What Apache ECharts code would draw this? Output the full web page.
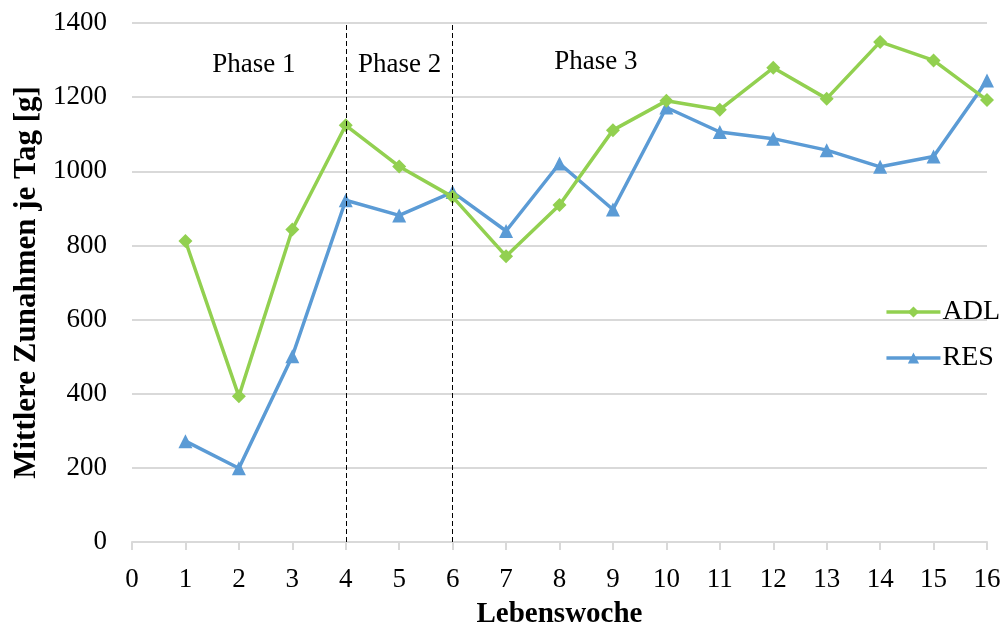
<!DOCTYPE html>
<html>
<head>
<meta charset="utf-8">
<script src="https://cdn.jsdelivr.net/npm/echarts@6/dist/echarts.min.js"></script>
<style>
  html, body { margin: 0; padding: 0; background: #fff; }
  #chart { width: 1008px; height: 629px; }
</style>
</head>
<body>
<div id="chart"></div>
<script>
// Lebenswoche (week of life)
const weeks = [1, 2, 3, 4, 5, 6, 7, 8, 9, 10, 11, 12, 13, 14, 15, 16];
// Mean daily gain in grams
const adl = [812, 393, 843, 1124, 1013, 931, 771, 909, 1111, 1190, 1166, 1279, 1196, 1349, 1299, 1192];
const res = [272, 199, 501, 922, 881, 944, 839, 1021, 897, 1172, 1106, 1088, 1057, 1012, 1040, 1245];
// Phase boundaries (week) and phase labels
const phaseBounds = [4, 6];
const phaseLabels = [
  { name: 'Phase 1', week: 2.28, value: 1287 },
  { name: 'Phase 2', week: 5.01, value: 1287 },
  { name: 'Phase 3', week: 8.68, value: 1295 }
];

const FONT = '"Liberation Serif", "Times New Roman", serif';
const chart = echarts.init(document.getElementById('chart'));

const toPairs = (vals) => weeks.map((w, i) => [w, vals[i]]);

chart.setOption({
  animation: false,
  textStyle: { fontFamily: FONT },
  grid: { left: 132, right: 21, top: 23, bottom: 87, outerBoundsMode: 'none', containLabel: false },
  legend: {
    orient: 'vertical',
    right: 3,
    top: 293,
    itemGap: 18,
    itemWidth: 54,
    itemHeight: 14,
    lineStyle: { width: 3.5 },
    textStyle: { fontFamily: FONT, fontSize: 28, color: '#000', padding: [0, 0, 0, -3] },
    data: ['ADL', 'RES']
  },
  xAxis: {
    type: 'value',
    min: 0,
    max: 16,
    interval: 1,
    name: 'Lebenswoche',
    nameLocation: 'middle',
    nameGap: 58,
    nameTextStyle: { fontFamily: FONT, fontSize: 29, fontWeight: 'bold', color: '#000' },
    axisLine: { show: true, lineStyle: { color: '#d9d9d9', width: 2 } },
    axisTick: { show: true, length: 8, lineStyle: { color: '#d9d9d9', width: 2 } },
    axisLabel: { fontFamily: FONT, fontSize: 27, color: '#000', margin: 24 },
    splitLine: { show: false }
  },
  yAxis: {
    type: 'value',
    min: 0,
    max: 1400,
    interval: 200,
    name: 'Mittlere Zunahmen je Tag [g]',
    nameLocation: 'middle',
    nameGap: 86,
    nameTextStyle: { fontFamily: FONT, fontSize: 31, fontWeight: 'bold', color: '#000' },
    axisLine: { show: false },
    axisTick: { show: false },
    axisLabel: {
      fontFamily: FONT, fontSize: 27, color: '#000', margin: 25,
      formatter: v => String(v)
    },
    splitLine: { show: true, lineStyle: { color: '#d9d9d9', width: 2 } }
  },
  series: [
    {
      name: 'ADL',
      type: 'line',
      data: toPairs(adl),
      symbol: 'diamond',
      symbolSize: 14,
      showAllSymbol: true,
      itemStyle: { color: '#92D050' },
      lineStyle: { color: '#92D050', width: 3.5 },
      z: 3,
      markLine: {
        silent: true,
        symbol: 'none',
        label: { show: false },
        lineStyle: { color: '#000', type: [5, 3], width: 1 },
        data: phaseBounds.map(w => ({ xAxis: w }))
      },
      markPoint: {
        silent: true,
        symbol: 'circle',
        symbolSize: 0,
        label: {
          show: true,
          position: 'inside',
          fontFamily: FONT,
          fontSize: 27,
          color: '#000',
          formatter: p => p.name
        },
        data: phaseLabels.map(p => ({ name: p.name, coord: [p.week, p.value] }))
      }
    },
    {
      name: 'RES',
      type: 'line',
      data: toPairs(res),
      symbol: 'triangle',
      symbolSize: 14,
      showAllSymbol: true,
      itemStyle: { color: '#5B9BD5' },
      lineStyle: { color: '#5B9BD5', width: 3.5 },
      z: 2
    }
  ]
});
</script>
</body>
</html>
